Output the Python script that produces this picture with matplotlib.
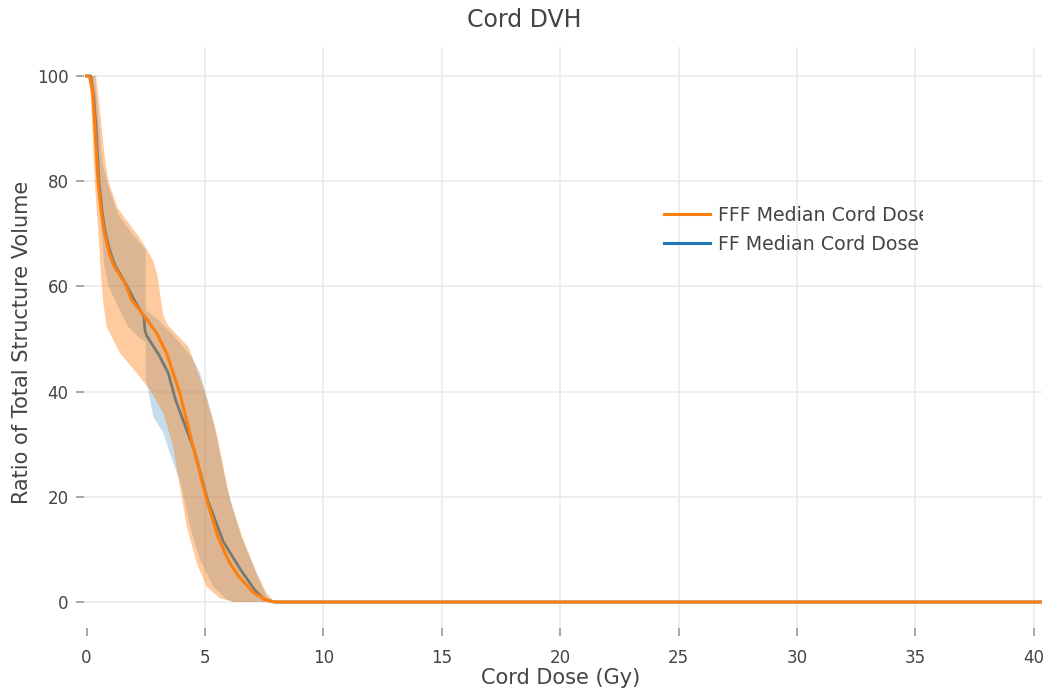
import numpy as np
import matplotlib
matplotlib.use("Agg")
import matplotlib.pyplot as plt
from matplotlib.transforms import Bbox

# median DVH curves (dose in Gy, volume in %)
fff_dose = [0, 0.12, 0.25, 0.35, 0.48, 0.62, 0.76, 0.95, 1.14, 1.62, 1.9, 2.47, 2.96, 3.38,
            3.94, 4.5, 5.07, 5.55, 6.0, 6.4, 7.04, 7.6, 8.0, 40.35]
fff_vol = [100, 100, 97, 90, 80, 74, 70, 66.5, 64, 60.6, 57.4, 54.2, 51.1, 47.3,
           39.7, 29.5, 19.5, 12.3, 7.8, 5.0, 1.8, 0.3, 0, 0]

ff_dose = [0, 0.17, 0.3, 0.4, 0.52, 0.66, 0.8, 1.0, 1.2, 1.65, 2.0, 2.42, 2.47, 2.54, 3.05,
           3.45, 3.75, 4.55, 5.1, 5.77, 6.48, 7.1, 7.5, 7.9, 40.35]
ff_vol = [100, 100, 96, 90, 80, 74, 70, 66.5, 64, 60.5, 57.5, 54.2, 51.5, 50.6, 47.0,
          43.5, 38.5, 28.8, 19.5, 11.5, 6.3, 2.3, 0.5, 0, 0]

# FFF range (upper / lower envelope)
fff_up_dose = [0, 0.4, 0.6, 0.75, 0.92, 1.3, 1.7, 2.2, 2.55, 2.8, 3.0, 3.12, 3.24, 3.45,
               3.73, 4.3, 4.93, 5.49, 6.06, 6.62, 7.18, 7.6, 7.94, 40.35]
fff_up_vol = [100, 100, 92, 85, 80, 75, 72.5, 69.5, 67, 65, 62, 58, 54.5, 52.5,
              51.2, 48.5, 40.9, 32.1, 19.4, 11.8, 5.5, 1.7, 0, 0]
fff_lo_dose = [0, 0.1, 0.2, 0.34, 0.5, 0.58, 0.7, 0.85, 1.41, 2.12, 2.68, 3.24, 3.66,
               3.94, 4.23, 4.65, 5.07, 5.63, 6.2, 40.35]
fff_lo_vol = [100, 100, 95, 80, 70, 63.8, 57, 52.3, 47.3, 43.5, 40.3, 35.9, 29.5,
              21.9, 14.3, 7.4, 2.9, 0.7, 0, 0]

# FF range (upper / lower envelope)
ff_up_dose = [0, 0.35, 0.5, 0.65, 0.86, 1.3, 1.92, 2.5, 2.5, 3.03, 3.73, 4.44, 4.79,
              5.35, 5.92, 6.48, 7.18, 7.6, 7.94, 40.35]
ff_up_vol = [100, 100, 92, 84, 80, 74, 70, 67, 55.5, 53.6, 50.4, 46.6, 43.5,
             34.6, 21.9, 13.1, 5.5, 1, 0, 0]
ff_lo_dose = [0, 0.15, 0.3, 0.45, 0.6, 0.75, 0.92, 1.34, 1.76, 2.33, 2.5, 2.5, 2.6, 2.82,
              3.24, 3.52, 4.02, 4.37, 4.79, 5.35, 5.9, 6.2, 40.35]
ff_lo_vol = [100, 100, 95, 82, 72, 64, 60, 56.1, 52.3, 49.8, 49.5, 42, 40.3, 35.2,
             32.1, 28.3, 21.9, 14.3, 8, 2.9, 0.5, 0, 0]

x_ticks = [0, 5, 10, 15, 20, 25, 30, 35, 40]
y_ticks = [0, 20, 40, 60, 80, 100]

blue = "#1f77b4"
orange = "#ff7f0e"
txt = "#444444"

plt.rcParams["font.family"] = "DejaVu Sans"

W, H = 1049, 700
fig = plt.figure(figsize=(W / 100, H / 100), dpi=100)
left, right, top, bottom = 84, 1042, 47, 628
ax = fig.add_axes([left / W, 1 - bottom / H, (right - left) / W, (bottom - top) / H])

def band(d_up, v_up, d_lo, v_lo, color, alpha, z):
    xs = np.r_[d_up, d_lo[::-1]]
    ys = np.r_[v_up, v_lo[::-1]]
    ax.fill(xs, ys, color=color, alpha=alpha, lw=0, zorder=z)

# FF first, then the FFF band over it (the FF median shows through it)
band(ff_up_dose, ff_up_vol, ff_lo_dose, ff_lo_vol, blue, 0.25, 2)
ax.plot(ff_dose, ff_vol, color=blue, lw=2.0, zorder=3, label="FF Median Cord Dose")
band(fff_up_dose, fff_up_vol, fff_lo_dose, fff_lo_vol, orange, 0.4, 4)
ax.plot(fff_dose, fff_vol, color=orange, lw=2.2, zorder=5, label="FFF Median Cord Dose")

ax.set_xlim(-0.11, 40.35)
ax.set_ylim(-4.94, 105.5)
ax.set_xticks(x_ticks)
ax.set_yticks(y_ticks)
ax.grid(True, color="#ebebeb", lw=1.2, zorder=0)
ax.set_axisbelow(True)
ax.get_xgridlines()[0].set_visible(False)
for s in ax.spines.values():
    s.set_visible(False)
ax.tick_params(axis="both", colors="#999999", labelcolor=txt, labelsize=12,
               length=6, width=1.2, direction="out")
ax.tick_params(axis="x", pad=9)
ax.tick_params(axis="y", pad=5)

ax.set_xlabel("Cord Dose (Gy)", fontsize=15, color=txt)
ax.xaxis.set_label_coords((561 - left) / (right - left), -(668 - bottom) / (bottom - top))
ax.set_ylabel("Ratio of Total Structure Volume", fontsize=15, color=txt)
ax.yaxis.set_label_coords(-(left - 32) / (right - left), (bottom - 342) / (bottom - top))

fig.text(524 / W, 1 - 20 / H, "Cord DVH", ha="center", va="center", fontsize=17, color=txt)

handles, labels = ax.get_legend_handles_labels()
leg = ax.legend(handles[::-1], labels[::-1], loc="upper left",
                bbox_to_anchor=(664 / W, 1 - 206 / H), bbox_transform=fig.transFigure,
                frameon=False, borderpad=0, borderaxespad=0, handlelength=2.4,
                handletextpad=0.45, labelspacing=0.5, prop={"size": 13.7})
for t in leg.get_texts():
    t.set_color(txt)
    t.set_clip_box(Bbox.from_extents(0, 0, 923, H))
    t.set_clip_on(True)
for h in leg.legend_handles:
    h.set_linewidth(2.2)

fig.savefig("out.png", dpi=100)
